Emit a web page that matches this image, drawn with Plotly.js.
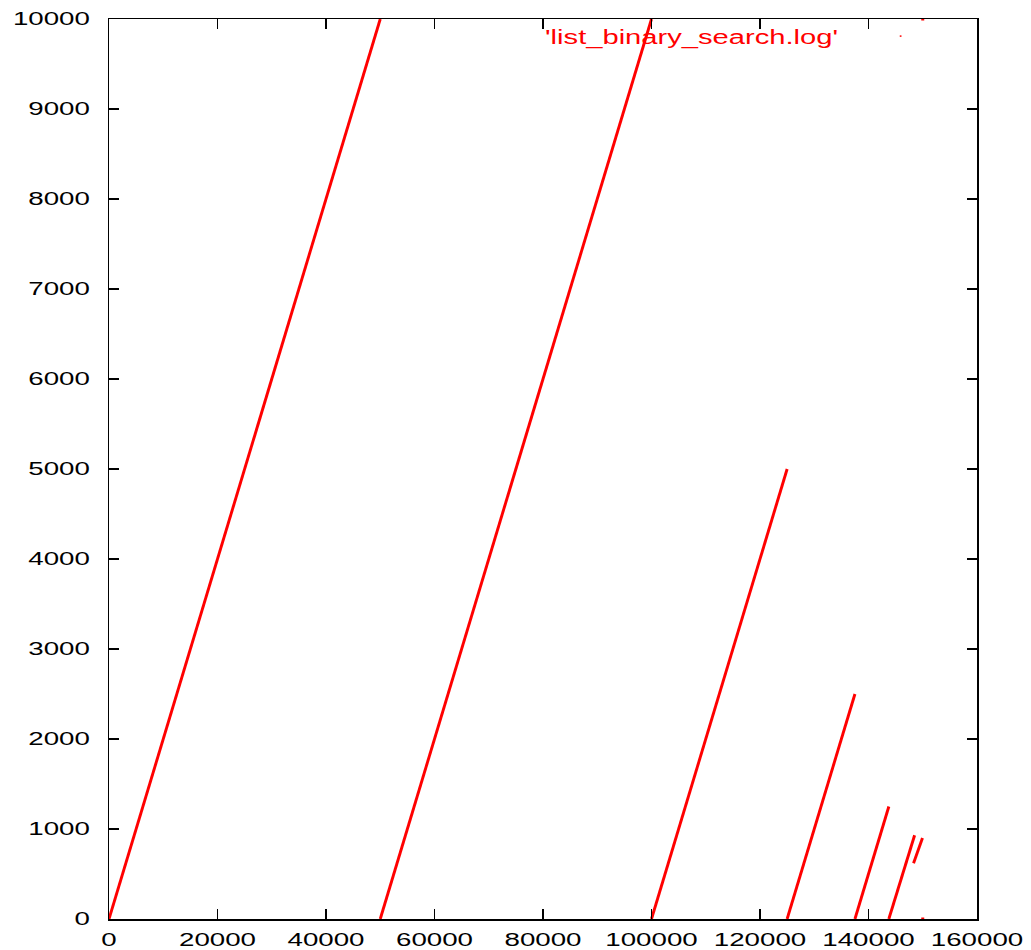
<!DOCTYPE html>
<html>
<head>
<meta charset="utf-8">
<script src="https://cdn.plot.ly/plotly-3.0.1.min.js"></script>
<style>body{margin:0;padding:0;background:#fff;}</style>
</head>
<body>
<div id="chart" style="width:1031px;height:950px;"></div>
<script>
// Segment start/end points (x = sample, y = value)
const segStartX = [0, 50000, 100000, 125000, 137500, 143750, 148300];
const segStartY = [0, 0, 0, 0, 0, 0, 620];
const segEndX   = [50000, 100000, 125000, 137500, 143750, 148500, 149950];
const segEndY   = [10000, 10000, 5000, 2500, 1250, 930, 900];
// isolated points
const dotX = [150000, 150000];
const dotY = [0, 10000];
const seriesName = "'list_binary_search.log'";
const xTickVals = [0, 20000, 40000, 60000, 80000, 100000, 120000, 140000, 160000];
const yTickVals = [0, 1000, 2000, 3000, 4000, 5000, 6000, 7000, 8000, 9000, 10000];

const lx = [], ly = [];
for (let i = 0; i < segStartX.length; i++) {
  lx.push(segStartX[i], segEndX[i], null);
  ly.push(segStartY[i], segEndY[i], null);
}

const traces = [
  {x: lx, y: ly, mode: 'lines', type: 'scatter', name: seriesName,
   line: {color: '#ff0000', width: 2.9}, connectgaps: false, showlegend: false, hoverinfo: 'skip'},
  {x: dotX, y: dotY, mode: 'markers', type: 'scatter', showlegend: false,
   marker: {color: '#ff0000', size: 3, symbol: 'square'}, hoverinfo: 'skip'}
];

const axisCommon = {
  showgrid: false, zeroline: false, showline: true, linecolor: '#000', linewidth: 1.5,
  mirror: 'ticks', ticks: 'inside', ticklen: 10, tickwidth: 1.5, tickcolor: '#000',
  tickfont: {family: 'Liberation Sans, Arial, sans-serif', size: 18, color: '#000'}
};

const layout = {
  width: 1031, height: 950,
  margin: {l: 109, r: 54, t: 19, b: 31},
  paper_bgcolor: '#fff', plot_bgcolor: '#fff',
  xaxis: Object.assign({}, axisCommon, {range: [0, 160000], tickvals: xTickVals,
    ticktext: xTickVals.map(String), ticklabelstandoff: 4}),
  yaxis: Object.assign({}, axisCommon, {range: [0, 10000], tickvals: yTickVals,
    ticktext: yTickVals.map(String), ticklabelstandoff: 14}),
  annotations: [{
    text: seriesName, xref: 'paper', yref: 'paper', x: 0.671, y: 0.979,
    xanchor: 'center', yanchor: 'middle', showarrow: false,
    font: {family: 'Liberation Sans, Arial, sans-serif', size: 20, color: '#ff0000'}
  }],
  shapes: [{
    type: 'line', xref: 'paper', yref: 'paper', x0: 0.911, x1: 0.913, y0: 0.981, y1: 0.981,
    line: {color: '#ff0000', width: 1.5}
  }]
};

Plotly.newPlot('chart', traces, layout, {staticPlot: true}).then(function () {
  document.querySelectorAll('.xtick text, .ytick text').forEach(function (t) {
    const n = t.textContent.length;
    t.setAttribute('textLength', (n * 15.4).toFixed(1));
    t.setAttribute('lengthAdjust', 'spacingAndGlyphs');
  });
  document.querySelectorAll('.annotation-text').forEach(function (t) {
    t.setAttribute('textLength', '293');
    t.setAttribute('lengthAdjust', 'spacingAndGlyphs');
  });
});
</script>
</body>
</html>
